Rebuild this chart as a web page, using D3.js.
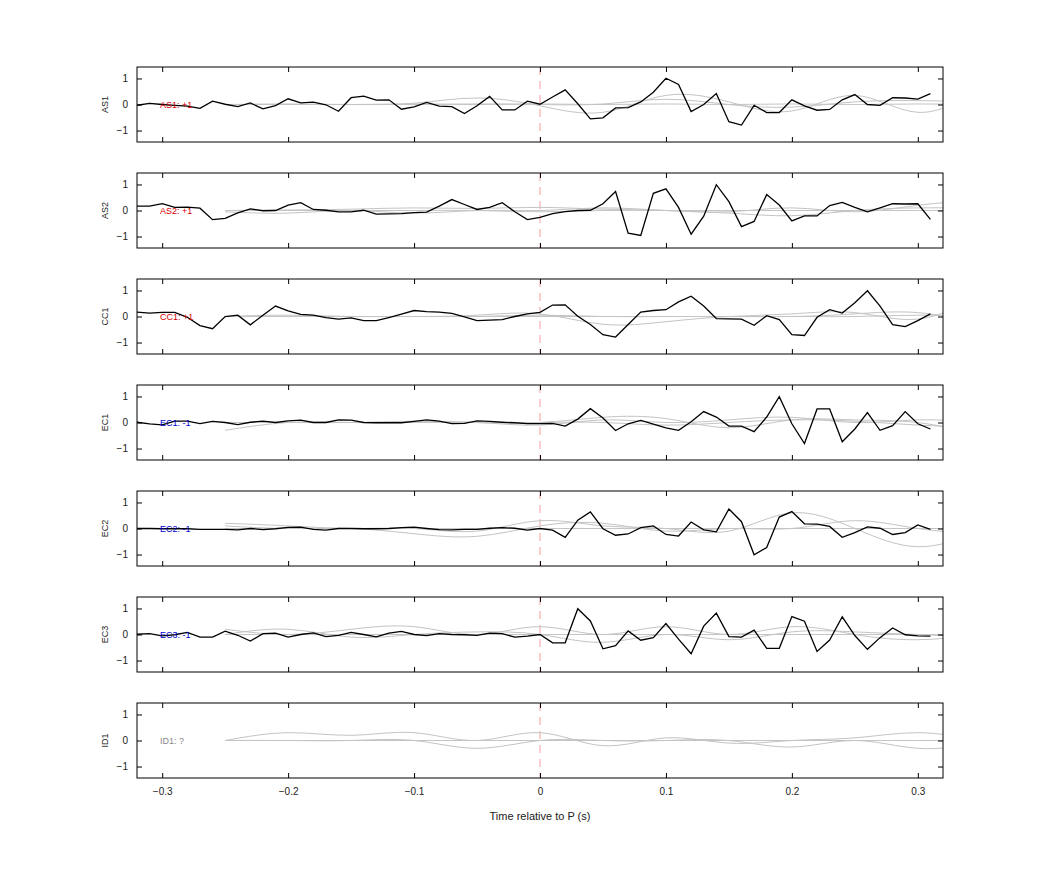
<!DOCTYPE html>
<html>
<head>
<meta charset="utf-8">
<script src="https://cdn.jsdelivr.net/npm/d3@7"></script>
<style>
  body { margin: 0; background: #fff; }
  text { font-family: "Liberation Sans", Arial, sans-serif; }
</style>
</head>
<body>
<svg id="chart" width="1042" height="875"></svg>
<script>
// DATA

var stations = ["AS1", "AS2", "CC1", "EC1", "EC2", "EC3", "ID1"];
var polarity = ["+1", "+1", "+1", "-1", "-1", "-1", "?"];
var tickX = [-0.3, -0.2, -0.1, 0, 0.1, 0.2, 0.3];
var tickY = [-1, 0, 1];

// black traces, one sample every 0.01 s from -0.32
var startT = -0.32, stepT = 0.01;
var as1 = [-0.03,0.04,0,-0.03,-0.06,-0.15,0.13,0.01,-0.08,0.06,-0.17,-0.04,0.22,0.06,0.09,-0.01,-0.26,0.26,0.32,0.17,0.18,-0.18,-0.09,0.08,-0.06,-0.08,-0.35,-0.05,0.31,-0.21,-0.21,0.13,0.01,0.29,0.56,0.03,-0.55,-0.51,-0.13,-0.12,0.1,0.47,1.01,0.77,-0.27,0,0.42,-0.66,-0.79,-0.03,-0.31,-0.31,0.18,-0.05,-0.22,-0.19,0.18,0.38,0,-0.03,0.26,0.25,0.21,0.42];
var as2 = [0.17,0.17,0.26,0.12,0.13,0.09,-0.35,-0.3,-0.09,0.06,-0.01,0,0.21,0.3,0.04,0.01,-0.05,-0.05,0.01,-0.14,-0.13,-0.12,-0.08,-0.06,0.17,0.42,0.23,0.04,0.12,0.3,-0.05,-0.35,-0.26,-0.12,-0.04,0,0.01,0.26,0.73,-0.87,-0.96,0.66,0.83,0.12,-0.91,-0.22,0.99,0.34,-0.62,-0.42,0.61,0.21,-0.4,-0.21,-0.21,0.19,0.31,0.12,-0.05,0.1,0.26,0.25,0.26,-0.34];
var cc1 = [0.17,0.13,0.16,0.16,-0.03,-0.35,-0.47,0,0.05,-0.32,0.05,0.4,0.22,0.08,0.05,-0.04,-0.1,-0.05,-0.16,-0.16,-0.04,0.09,0.23,0.19,0.17,0.12,-0.01,-0.16,-0.14,-0.12,0,0.1,0.16,0.44,0.45,0.01,-0.31,-0.7,-0.79,-0.31,0.17,0.23,0.26,0.56,0.78,0.4,-0.08,-0.09,-0.1,-0.34,0.03,-0.12,-0.7,-0.73,-0.03,0.26,0.13,0.53,0.99,0.4,-0.31,-0.39,-0.16,0.1];
var ec1 = [0.01,-0.05,-0.09,0.05,0.05,-0.04,0.04,0,-0.08,0.01,0.05,0,0.06,0.09,0,0,0.1,0.09,0,-0.01,-0.01,-0.01,0.04,0.1,0.05,-0.04,-0.03,0.06,0.04,0.01,-0.01,-0.04,-0.04,-0.03,-0.14,0.13,0.53,0.17,-0.31,-0.05,0.08,-0.06,-0.21,-0.3,0.03,0.42,0.21,-0.14,-0.14,-0.35,0.21,0.99,-0.05,-0.81,0.52,0.52,-0.74,-0.25,0.38,-0.3,-0.12,0.42,-0.05,-0.25];
var ec2 = [0,0,-0.01,-0.01,-0.01,-0.03,-0.03,-0.03,-0.05,0,-0.04,-0.01,0.04,0.05,-0.03,-0.06,0,0,-0.01,-0.01,0,0.03,0.05,0,-0.04,-0.05,-0.03,-0.03,0.01,0.03,0.01,-0.06,0,-0.06,-0.34,0.32,0.64,-0.01,-0.26,-0.21,0.03,0.1,-0.23,-0.29,0.25,-0.05,-0.13,0.75,0.26,-1.01,-0.73,0.44,0.65,0.18,0.17,0.08,-0.34,-0.16,0.06,0.01,-0.23,-0.16,0.14,-0.03];
var ec3 = [0.01,0.03,-0.05,-0.01,0.08,-0.1,-0.1,0.13,-0.03,-0.25,0.03,0.05,-0.1,0,0.06,-0.08,-0.03,0.08,0,-0.09,0.05,0.12,0,-0.04,0.03,0,-0.01,-0.03,0.05,0.03,-0.1,-0.06,0,-0.32,-0.32,0.99,0.52,-0.55,-0.43,0.14,-0.22,-0.12,0.42,-0.18,-0.74,0.32,0.82,-0.08,-0.1,0.17,-0.53,-0.53,0.69,0.51,-0.65,-0.21,0.68,-0.04,-0.57,-0.12,0.25,-0.01,-0.05,-0.06];
var blackTraces = [as1, as2, cc1, ec1, ec2, ec3, null];

// grey synthetic traces, knots every 0.05 s from -0.25
var greyT = [-0.25,-0.2,-0.15,-0.1,-0.05,0,0.05,0.1,0.15,0.2,0.25,0.3,0.35];
var greyTraces = [
  [[0,0,0,0.05,0.25,-0.05,-0.3,0.35,0.1,-0.25,0.35,-0.3,0.6],
   [0,0,0,0,0.02,0,0.02,0.2,0,-0.1,0.1,0.15,0.1],
   [0,0.02,0,0.02,0,0.02,0,0.02,0,0.02,0,0.02,0]],
  [[0,0.02,0.05,0.1,0.08,0.12,0.05,0,-0.05,0.1,-0.05,0.2,0.4],
   [-0.05,-0.1,0,-0.1,0,0,0.1,0,-0.1,-0.2,0,0.1,0.1],
   [0,0,0,0,0,-0.05,0,0,0,0,0,0,0]],
  [[0,0,0,0,0.05,0.1,-0.3,-0.2,0,0.1,0.15,-0.1,0.8],
   [0,0.05,0,0,0,0.05,0,0,0,0,0.1,0.15,-0.3],
   [0,0,0,0,0,0,0,0,0,0,0,0.05,0]],
  [[-0.3,0,0,0,0,0,0.2,0.15,-0.2,0.1,0.1,0,-0.5],
   [0,0,0,0,0,-0.1,0.1,0,0.1,0.2,0,0.1,0],
   [0,0,0,0.05,0,0,0,-0.1,0,0.1,0.05,-0.1,-0.2]],
  [[0.2,0.1,0,0,-0.1,0.3,0.1,0,-0.1,0.6,0,-0.7,-0.1],
   [0.1,0,0,-0.2,-0.3,0.1,0.2,-0.1,0,0,0.3,0,-0.2],
   [0,0,0,0,0,0,0,0,0,0,0,0,0]],
  [[0.2,0,0.2,0.3,0,0.3,0,0.3,0,0.3,0,-0.2,0],
   [0,0.2,-0.1,0,0.1,0,-0.3,0,-0.2,0.1,0.1,0,-0.1],
   [0,0,0,0,0,0,0,0,0,0,0,0,0]],
  [[0,0.3,0.2,0.3,0,0.3,-0.2,0.1,-0.1,0,0.1,0.3,0],
   [0,0,0,0,-0.3,0,0,0,0,-0.25,0,-0.3,-0.1],
   [0,0,0,0,0,0,0,0,0,0,0,0,0]]
];

// CHART

var svg = d3.select("#chart");
var left = 137, right = 943, panelH = 75, panelGap = 106, firstTop = 67;

var x = d3.scaleLinear().domain([-0.32, 0.32]).range([left, right]);

function polColor(p) {
    if (p === "+1") return "#d40000";
    if (p === "-1") return "#0000cc";
    return "#888";
}

stations.forEach(function(name, i) {
    var top = firstTop + i * panelGap;
    var y = d3.scaleLinear().domain([-1.44, 1.44]).range([top + panelH, top]);

    var clipId = "clip" + i;
    svg.append("clipPath").attr("id", clipId)
      .append("rect")
        .attr("x", left).attr("y", top)
        .attr("width", right - left).attr("height", panelH);

    var g = svg.append("g");
    var plot = g.append("g").attr("clip-path", "url(#" + clipId + ")");

    // zero dashed line
    plot.append("line")
        .attr("x1", x(0)).attr("x2", x(0))
        .attr("y1", top).attr("y2", top + panelH)
        .attr("stroke", "#f0a0a0")
        .attr("stroke-dasharray", "8,6");

    var greyLine = d3.line()
        .x(function(d, k) { return x(greyT[k]); })
        .y(function(d) { return y(d); })
        .curve(d3.curveNatural);

    greyTraces[i].forEach(function(tr) {
        plot.append("path")
            .attr("d", greyLine(tr))
            .attr("fill", "none")
            .attr("stroke", "#c4c4c4")
            .attr("stroke-width", 1);
    });

    if (blackTraces[i]) {
        var blackLine = d3.line()
            .x(function(d, k) { return x(startT + k * stepT); })
            .y(function(d) { return y(d); });
        plot.append("path")
            .attr("d", blackLine(blackTraces[i]))
            .attr("fill", "none")
            .attr("stroke", "#000")
            .attr("stroke-width", 1.3);
    }

    g.append("text")
        .attr("x", 160).attr("y", y(0) + 3)
        .attr("font-size", 9)
        .attr("fill", polColor(polarity[i]))
        .text(name + ": " + polarity[i]);

    // axes, ticks pointing inward
    g.append("g")
        .attr("transform", "translate(" + left + ",0)")
        .call(d3.axisLeft(y).tickValues(tickY).tickSize(-5).tickPadding(9).tickFormat(d3.format("d")))
        .call(function(a) { a.select(".domain").remove(); });
    g.append("g")
        .attr("transform", "translate(" + right + ",0)")
        .call(d3.axisRight(y).tickValues(tickY).tickSize(-5).tickFormat(""))
        .call(function(a) { a.select(".domain").remove(); });
    g.append("g")
        .attr("transform", "translate(0," + top + ")")
        .call(d3.axisTop(x).tickValues(tickX).tickSize(-5).tickFormat(""))
        .call(function(a) { a.select(".domain").remove(); });
    g.append("g")
        .attr("transform", "translate(0," + (top + panelH) + ")")
        .call(d3.axisBottom(x).tickValues(tickX).tickSize(-5).tickPadding(10)
              .tickFormat(i === stations.length - 1 ? d3.format("") : ""))
        .call(function(a) { a.select(".domain").remove(); });

    g.selectAll(".tick line").attr("stroke", "#000");
    g.selectAll(".tick text").attr("font-size", 10).attr("fill", "#222");

    g.append("rect")
        .attr("x", left).attr("y", top)
        .attr("width", right - left).attr("height", panelH)
        .attr("fill", "none").attr("stroke", "#000").attr("stroke-width", 1);

    g.append("text")
        .attr("transform", "translate(108," + y(0) + ") rotate(-90)")
        .attr("text-anchor", "middle")
        .attr("font-size", 9)
        .attr("fill", "#222")
        .text(name);
});

svg.append("text")
    .attr("x", x(0)).attr("y", 820)
    .attr("text-anchor", "middle")
    .attr("font-size", 11)
    .attr("fill", "#222")
    .text("Time relative to P (s)");
</script>
</body>
</html>
